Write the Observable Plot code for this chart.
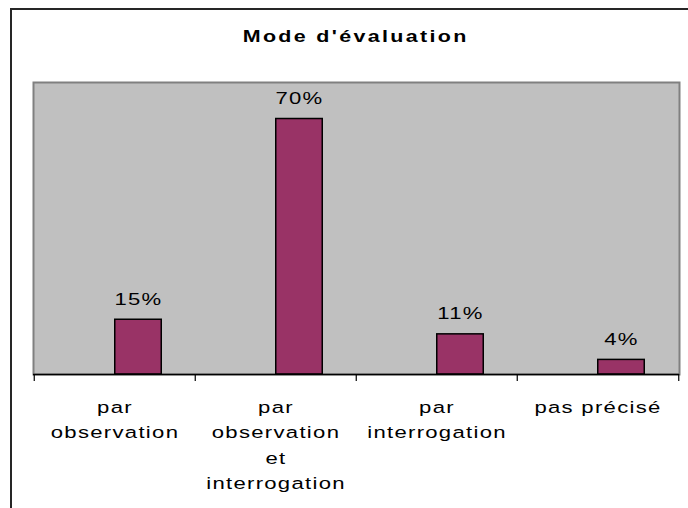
<!DOCTYPE html>
<html><head><meta charset="utf-8">
<script src="https://cdn.jsdelivr.net/npm/d3@7"></script>
<script src="https://cdn.jsdelivr.net/npm/@observablehq/plot@0.6"></script>
<style>
html,body{margin:0;padding:0;background:#fff;overflow:hidden}
#wrap{position:relative;width:688px;height:508px;overflow:hidden;font-family:"Liberation Sans",Arial,sans-serif}
#border{position:absolute;left:10px;top:8px;width:720px;height:540px;border:2px solid #262626;box-sizing:border-box}
#title{position:absolute;left:0;top:28px;width:712px;text-align:center;font-weight:bold;font-size:16.5px;line-height:17px;letter-spacing:1.8px;color:#000;transform:scaleX(1.3);transform-origin:357px 0}
#chart{position:absolute;left:0;top:0}
#chart svg text{letter-spacing:1px}
</style>
</head><body>
<div id="wrap"><div id="border"></div><div id="title">Mode d'évaluation</div><div id="chart"></div></div>
<script>
const categories = ["par\nobservation", "par\nobservation\net\ninterrogation", "par\ninterrogation", "pas précisé"];
const values = [15, 70, 11, 4];
const valueLabels = ["15%", "70%", "11%", "4%"];
const yMax = 80;

const data = categories.map((c, i) => ({cat: c, value: values[i], label: valueLabels[i]}));

const W = 688, H = 508;
const mL = 33, mR = 9, mT = 82, mB = 134;
const bw = (W - mL - mR) / categories.length;

const chart = Plot.plot({
  width: W, height: H,
  marginLeft: mL, marginRight: mR, marginTop: mT, marginBottom: mB,
  style: {fontFamily: "'Liberation Sans', Arial, sans-serif", background: "transparent"},
  x: {domain: categories, padding: 0, axis: null},
  y: {domain: [0, yMax], axis: null},
  marks: [
    Plot.frame({fill: "#c0c0c0", stroke: "#808080", strokeWidth: 2}),
    Plot.barY(data, {x: "cat", y: "value", fill: "#993366", stroke: "#000", strokeWidth: 1.5,
      insetLeft: bw / 2, insetRight: bw - bw / 2 - 47}),
    Plot.text(data, {x: "cat", y: "value", text: "label", dx: 23.5, dy: -15, lineAnchor: "bottom",
      fontSize: 17, fill: "#000"}),
    Plot.ruleY([0], {stroke: "#000", strokeWidth: 1.5}),
    Plot.ruleX(categories, {x: d => d, y1: 0, y2: 0, dx: -bw / 2, insetBottom: -7, stroke: "#000", strokeWidth: 1.2}),
    Plot.ruleX(categories.slice(-1), {x: d => d, y1: 0, y2: 0, dx: bw / 2, insetBottom: -7, stroke: "#000", strokeWidth: 1.2}),
    Plot.text(data, {x: "cat", y: 0, text: "cat", lineAnchor: "top", dy: 20, fontSize: 17, lineHeight: 1.5, fill: "#000"})
  ]
});
// stretch glyphs horizontally around each text's anchor point (reference text is wide)
chart.querySelectorAll("text").forEach(t => {
  const tr = t.getAttribute("transform") || "";
  t.setAttribute("transform", `${tr} scale(1.3,1)`);
});
document.getElementById("chart").appendChild(chart);
</script>
</body></html>
